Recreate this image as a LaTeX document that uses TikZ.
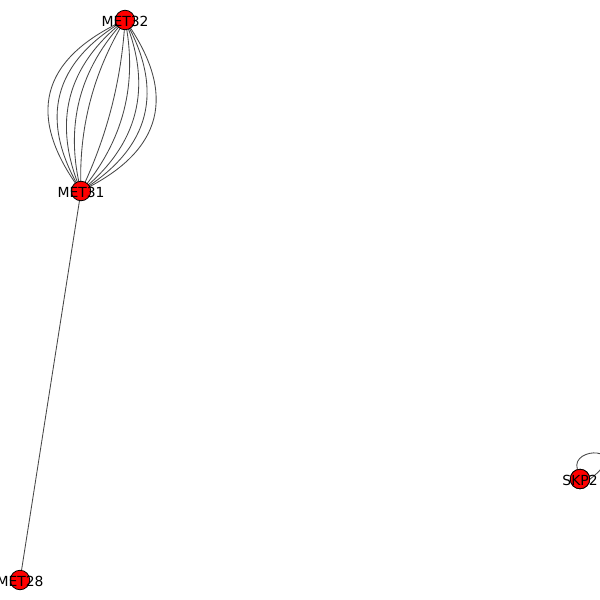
\documentclass[tikz,border=0pt]{standalone}
\usepackage{fontspec}
\setmainfont{DejaVu Sans}
\usetikzlibrary{calc}
\begin{document}
\begin{tikzpicture}[x=1pt,y=-1pt,
  gnode/.style={circle,fill=red,draw=black,line width=0.8pt,minimum size=19.5pt,inner sep=0pt},
  glabel/.style={font=\fontsize{13.9}{14}\selectfont,text=black,inner sep=0pt,yshift=-1.5pt},
  gedge/.style={draw=black!72,line width=0.85pt}]
\useasboundingbox (0,0) rectangle (600,600);
\clip (0,0) rectangle (600,600);
\coordinate (p32) at (125,20);
\coordinate (p31) at (81,191);
\coordinate (p28) at (20,580);
\coordinate (pskp) at (580,479);
% edges (quadratic curves)
\foreach \cx/\cy in {76.9/98.8,56.1/93.4,37.2/88.6,16.8/83.3,-2.5/78.4,119.9/109.9,144.6/116.2,166.9/121.9,185.3/126.7,204.6/131.6}{
  \draw[gedge] (p32) .. controls ($(p32)!0.6667!(\cx,\cy)$) and ($(p31)!0.6667!(\cx,\cy)$) .. (p31);
}
\draw[gedge] (p31) -- (p28);
% nodes
\node[gnode] (met32) at (p32) {};
\node[gnode] (met31) at (p31) {};
\node[gnode] (met28) at (p28) {};
\node[gnode] (skp2) at (pskp) {};
\draw[gedge] (skp2.105) .. controls (570,446) and (633,446) .. (skp2.0);
\node[gnode] at (pskp) {};
\node[glabel] (l32) at (p32) {MET32};
\node[glabel] (l31) at (p31) {MET31};
\node[glabel] (l28) at (p28) {MET28};
\node[glabel] (lskp) at (pskp) {SKP2};
\end{tikzpicture}
\end{document}
